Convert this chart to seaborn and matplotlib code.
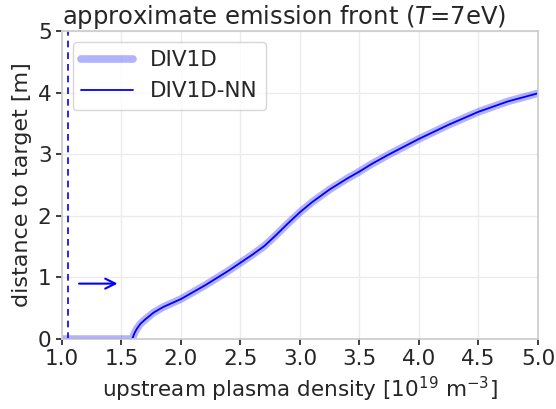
import matplotlib

matplotlib.use("Agg")

import matplotlib.pyplot as plt
import pandas as pd
import seaborn as sns

# upstream density [1e19 m^-3] vs emission-front distance [m]
densidade = [1.0, 1.59, 1.61, 1.63, 1.66, 1.70, 1.77, 1.85, 2.0, 2.1, 2.2, 2.3,
             2.4, 2.5, 2.6, 2.7, 2.75, 2.8, 2.9, 3.0, 3.1, 3.25, 3.4, 3.5,
             3.6, 3.75, 3.9, 4.0, 4.25, 4.5, 4.75, 5.0]
frente_div1d = [0.0, 0.0, 0.10, 0.17, 0.25, 0.32, 0.43, 0.52, 0.65, 0.76, 0.87, 0.99,
                1.11, 1.24, 1.37, 1.51, 1.60, 1.69, 1.88, 2.06, 2.22, 2.43, 2.61, 2.72,
                2.84, 3.00, 3.15, 3.25, 3.48, 3.69, 3.86, 3.99]
frente_nn = [0.0, 0.0, 0.10, 0.17, 0.25, 0.32, 0.43, 0.52, 0.65, 0.76, 0.87, 0.99,
             1.11, 1.24, 1.37, 1.51, 1.60, 1.69, 1.88, 2.06, 2.22, 2.43, 2.61, 2.72,
             2.84, 3.00, 3.15, 3.25, 3.48, 3.69, 3.86, 3.99]

limiar_x = 1.05
seta_inicio, seta_fim, seta_y = 1.12, 1.49, 0.9

sns.set_theme(style="whitegrid")
plt.rcParams.update({
    "font.family": ["DejaVu Sans"],
    "axes.edgecolor": ".8",
    "xtick.bottom": True,
    "ytick.left": True,
    "xtick.color": ".15",
    "ytick.color": ".15",
    "xtick.major.size": 4,
    "ytick.major.size": 4,
    "grid.color": ".92",
})

df = pd.DataFrame({"n": densidade, "DIV1D": frente_div1d, "DIV1D-NN": frente_nn})

fig, ax = plt.subplots(figsize=(5.56, 4.09), dpi=100)
sns.lineplot(data=df, x="n", y="DIV1D", ax=ax, color="blue", alpha=0.3,
             linewidth=5.5, label="DIV1D")
sns.lineplot(data=df, x="n", y="DIV1D-NN", ax=ax, color="blue",
             linewidth=1.3, label="DIV1D-NN")

ax.axvline(limiar_x, color="blue", linestyle="--", linewidth=1.2, dashes=(4, 3))
ax.annotate("", xy=(seta_fim, seta_y), xytext=(seta_inicio, seta_y),
            arrowprops=dict(arrowstyle="->", color="blue", lw=1.5,
                            mutation_scale=18))

ax.set_xlim(1.0, 5.0)
ax.set_ylim(0, 5)
ax.set_xticks([1.0, 1.5, 2.0, 2.5, 3.0, 3.5, 4.0, 4.5, 5.0])
ax.set_title("approximate emission front ($T$=7eV)", fontsize=17.5, pad=3, loc="left")
ax.set_xlabel("upstream plasma density [$10^{19}$ m$^{-3}$]", fontsize=15.5)
ax.set_ylabel("distance to target [m]", fontsize=16)
ax.tick_params(labelsize=15.5)
ax.legend(loc="upper left", fontsize=15.5, handlelength=2.4)

fig.subplots_adjust(left=0.1115, right=0.9676, top=0.924, bottom=0.171)
fig.savefig("out.png")
